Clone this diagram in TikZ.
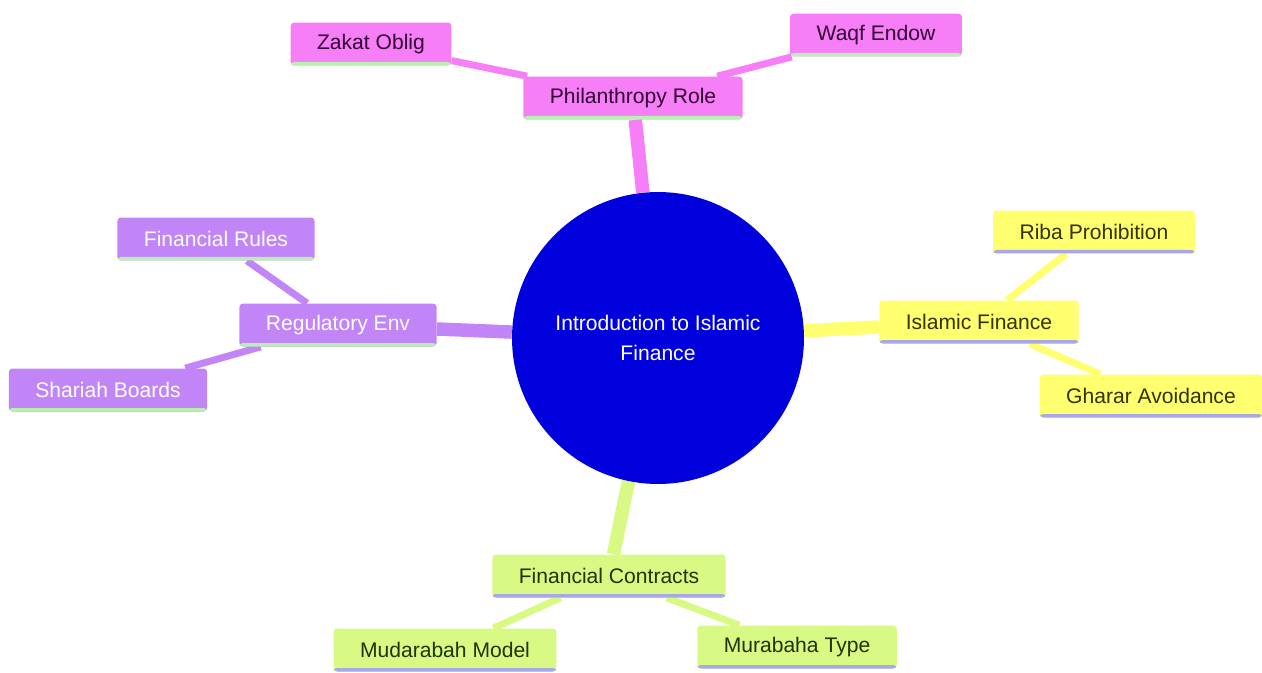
\documentclass[tikz,border=0pt]{standalone}
\usepackage{fontspec}
\setmainfont{Liberation Sans}
\usetikzlibrary{backgrounds}

\definecolor{pinkfill}{HTML}{F67EF6}
\definecolor{pinktext}{HTML}{330033}
\definecolor{purplefill}{HTML}{C285F7}
\definecolor{yellowfill}{HTML}{FFFF70}
\definecolor{yellowtext}{HTML}{333300}
\definecolor{greenfill}{HTML}{D8FA85}
\definecolor{greentext}{HTML}{223300}
\definecolor{rootfill}{HTML}{0000DD}
\definecolor{mintline}{HTML}{B8F0B0}
\definecolor{lavline}{HTML}{A8A8E8}

\begin{document}
\begin{tikzpicture}[x=0.02cm,y=-0.02cm]

\tikzset{
  topic/.style={
    rounded corners=2pt,
    inner xsep=0.53cm,
    minimum height=0.86cm,
    font=\fontsize{12}{14}\selectfont,
  },
  underline/.style={
    path picture={\fill[#1] ([yshift=0.07cm]path picture bounding box.south west)
      rectangle (path picture bounding box.south east);}
  },
  pink topic/.style={topic, fill=pinkfill, text=pinktext, underline=mintline},
  purple topic/.style={topic, fill=purplefill, text=white, underline=mintline},
  yellow topic/.style={topic, fill=yellowfill, text=yellowtext, underline=lavline},
  green topic/.style={topic, fill=greenfill, text=greentext, underline=lavline},
  main edge/.style={line width=0.27cm},
  leaf edge/.style={line width=0.14cm},
}

\useasboundingbox (0,0) rectangle (1262,673);

% Root
\node[circle, fill=rootfill, text=white, minimum size=5.84cm, align=center,
  font=\fontsize{12}{17}\selectfont] (root) at (658,338)
  {Introduction to Islamic\\Finance};

% Level 1
\node[pink topic] (phil) at (633,98) {Philanthropy Role};
\node[purple topic] (reg) at (338,325) {Regulatory Env};
\node[yellow topic] (isl) at (979,322) {Islamic Finance};
\node[green topic] (con) at (609,576) {Financial Contracts};

% Level 2
\node[pink topic] (zakat) at (371,44) {Zakat Oblig};
\node[pink topic] (waqf) at (876,35) {Waqf Endow};
\node[purple topic] (rules) at (216,239) {Financial Rules};
\node[purple topic] (shariah) at (108,390) {Shariah Boards};
\node[yellow topic] (riba) at (1094,232) {Riba Prohibition};
\node[yellow topic] (gharar) at (1151,396) {Gharar Avoidance};
\node[green topic] (mudar) at (445,650) {Mudarabah Model};
\node[green topic] (murab) at (797,647) {Murabaha Type};

% Edges
\begin{scope}[on background layer]
\draw[main edge, pinkfill] (root) -- (phil);
\draw[main edge, purplefill] (root) -- (reg);
\draw[main edge, yellowfill] (root) -- (isl);
\draw[main edge, greenfill] (root) -- (con);

\draw[leaf edge, pinkfill] (phil) -- (zakat);
\draw[leaf edge, pinkfill] (phil) -- (waqf);
\draw[leaf edge, purplefill] (reg) -- (rules);
\draw[leaf edge, purplefill] (reg) -- (shariah);
\draw[leaf edge, yellowfill] (isl) -- (riba);
\draw[leaf edge, yellowfill] (isl) -- (gharar);
\draw[leaf edge, greenfill] (con) -- (mudar);
\draw[leaf edge, greenfill] (con) -- (murab);
\end{scope}

\end{tikzpicture}
\end{document}
